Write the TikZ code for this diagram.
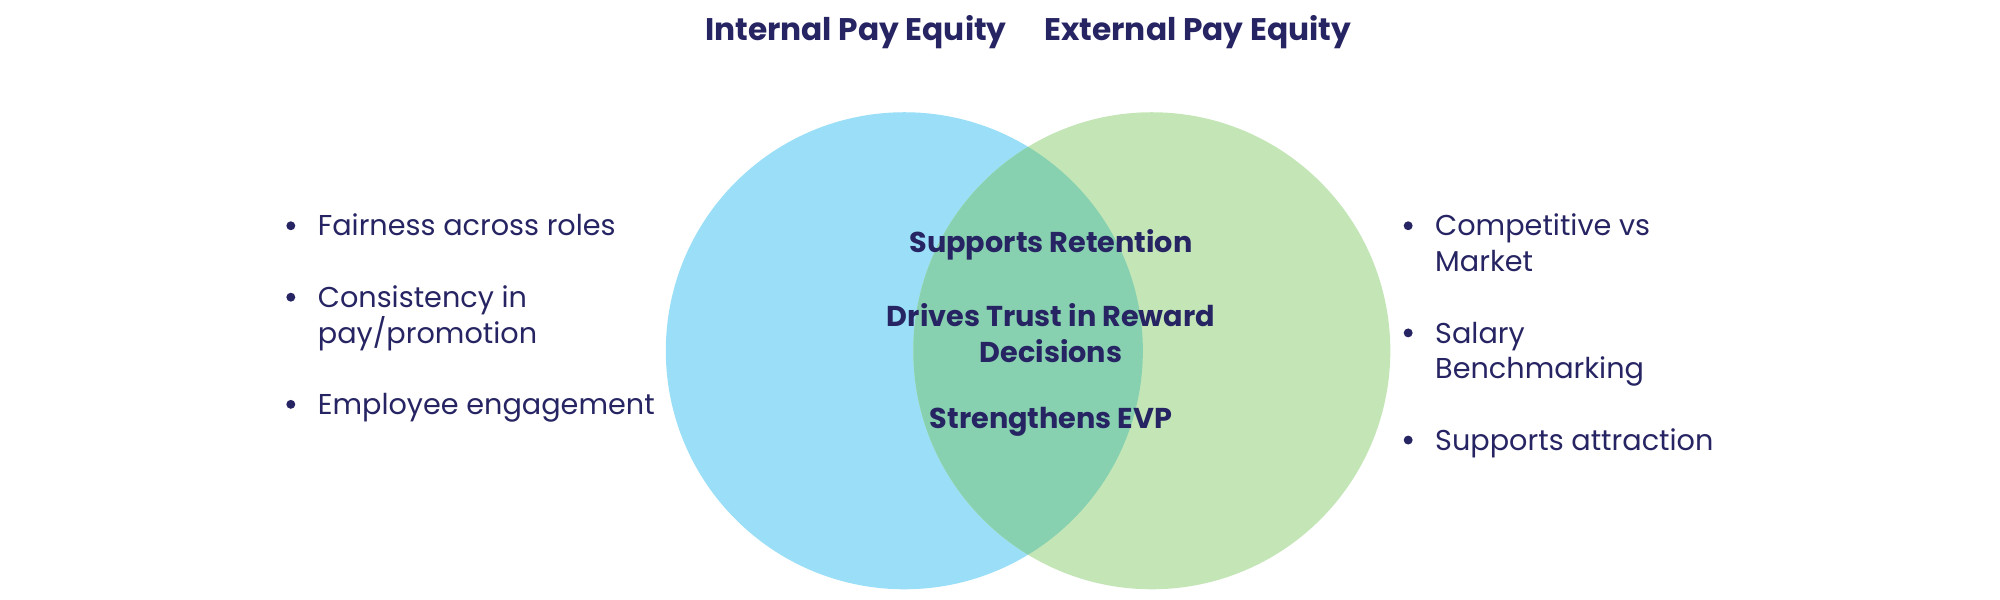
\documentclass[tikz,border=0pt]{standalone}
\usepackage{fontspec}
\setmainfont{Poppins}
\definecolor{navy}{RGB}{38,36,98}
\definecolor{skyblue}{RGB}{154,223,247}
\definecolor{leafgreen}{RGB}{196,230,183}
\definecolor{mixgreen}{RGB}{136,209,176}
\tikzset{
  heading/.style={text=navy, font=\fontsize{24.5}{28}\selectfont\bfseries},
  midtext/.style={text=navy, font=\fontsize{22.5}{28}\selectfont\bfseries, align=center},
  item/.style={text=navy, font=\fontsize{22.5}{28}\selectfont, anchor=base west, align=left, inner sep=0pt},
  dot/.style={circle, fill=navy, inner sep=0pt, minimum size=7pt}
}
\begin{document}
\begin{tikzpicture}[x=1pt,y=-1pt]
\useasboundingbox (0,0) rectangle (1568,470);

\fill [skyblue] (709,275) circle (187);
\fill [leafgreen] (903,275) circle (187);
\begin{scope}
\clip (709,275) circle (187);
\fill [mixgreen] (903,275) circle (187);
\end{scope}

\node [heading] (inner) at (671,25) {Internal Pay Equity};
\node [heading] (outer) at (939,25) {External Pay Equity};

% left list (base of last line)
\node [dot] (l1) at (228,177) {};
\node [item] (t1) at (249,185) {Fairness across roles};
\node [dot] (l2) at (228,233) {};
\node [item] (t2) at (249,269) {Consistency in\\pay/promotion};
\node [dot] (l3) at (228,317) {};
\node [item] (t3) at (249,325) {Employee engagement};

% right list
\node [dot] (r1) at (1104,177) {};
\node [item] (u1) at (1125,213) {Competitive vs\\Market};
\node [dot] (r2) at (1104,261) {};
\node [item] (u2) at (1125,297) {Salary\\Benchmarking};
\node [dot] (r3) at (1104,345) {};
\node [item] (u3) at (1125,353) {Supports attraction};

% overlap
\node [midtext] (m1) at (824,192) {Supports Retention};
\node [midtext] (m2) at (824,261) {Drives Trust in Reward\\Decisions};
\node [midtext] (m3) at (824,331) {Strengthens EVP};
\end{tikzpicture}
\end{document}
